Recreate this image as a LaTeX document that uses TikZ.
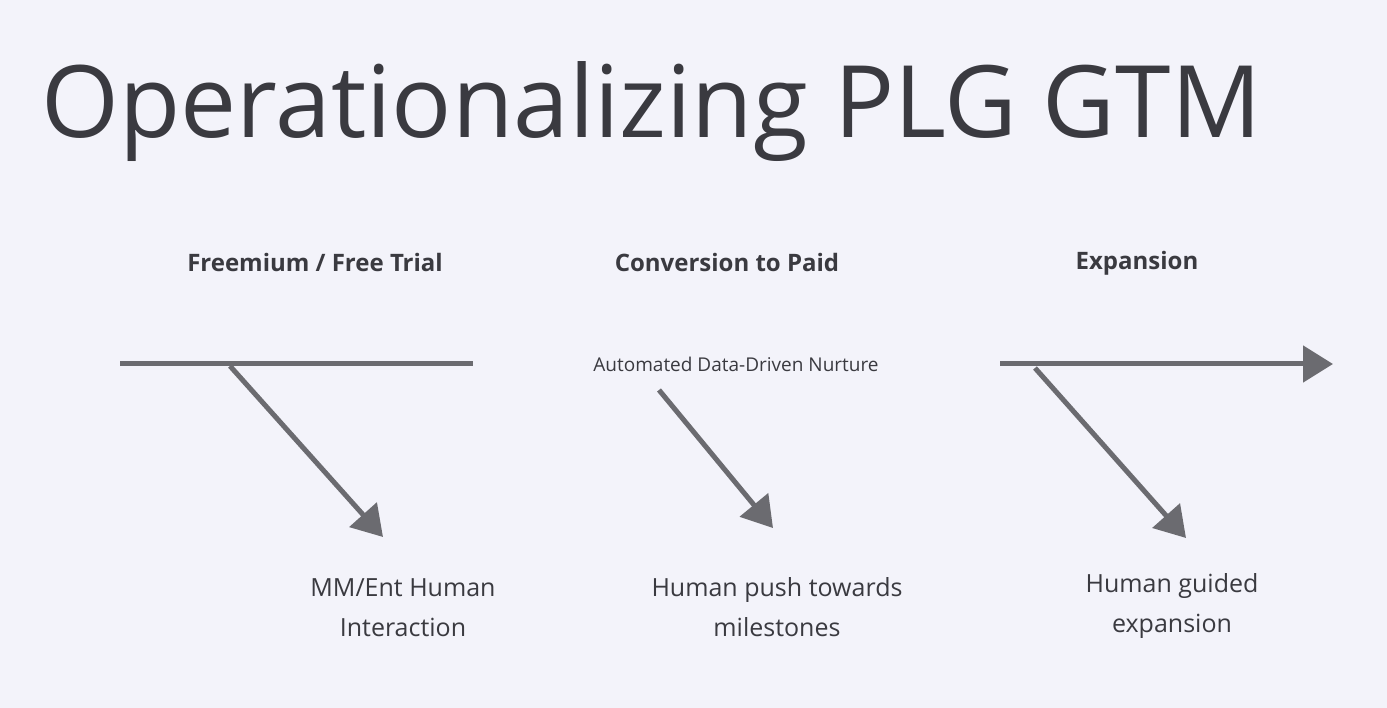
\documentclass[tikz,border=0pt]{standalone}
\usepackage{fontspec}
\setmainfont{Open Sans}
\usetikzlibrary{arrows.meta}
\definecolor{bg}{HTML}{F3F3FA}
\definecolor{ink}{HTML}{3A3A40}
\definecolor{ln}{HTML}{6B6B70}
\tikzset{
  bar/.style={draw=ln,line width=5pt},
  arr/.style={bar,-{Triangle[length=30pt,width=36pt]}},
  head/.style={font=\fontsize{24}{28}\selectfont\bfseries,text=ink},
  lab/.style={font=\fontsize{25}{40}\selectfont,text=ink,align=center},
}
\begin{document}
\begin{tikzpicture}[x=1pt,y=-1pt]
\fill[bg] (0,0) rectangle (1387,708);
\useasboundingbox (0,0) rectangle (1387,708);
\node[anchor=west,text=ink,font=\fontsize{100}{110}\selectfont] (title) at (38,112) {Operationalizing PLG GTM};
\node[head] (h1) at (315,263) {Freemium / Free Trial};
\node[head] (h2) at (727,263) {Conversion to Paid};
\node[head] (h3) at (1137,263) {Expansion};
\coordinate (a1) at (120,364); \coordinate (a2) at (473,364);
\draw[bar] (a1) -- (a2);
\coordinate (b1) at (230,366); \coordinate (b2) at (383,537);
\draw[arr] (b1) -- (b2);
\node[font=\fontsize{19}{22}\selectfont,text=ink] (nur) at (736,364) {Automated Data-Driven Nurture};
\coordinate (c1) at (659,390); \coordinate (c2) at (773,528);
\draw[arr] (c1) -- (c2);
\coordinate (d1) at (1000,364); \coordinate (d2) at (1333,364);
\draw[arr] (d1) -- (d2);
\coordinate (e1) at (1035,368); \coordinate (e2) at (1186,538);
\draw[arr] (e1) -- (e2);
\node[lab] (l1) at (403,608) {MM/Ent Human\\Interaction};
\node[lab] (l2) at (777,607) {Human push towards\\milestones};
\node[lab] (l3) at (1172,606) {Human guided\\expansion};
\end{tikzpicture}
\end{document}
